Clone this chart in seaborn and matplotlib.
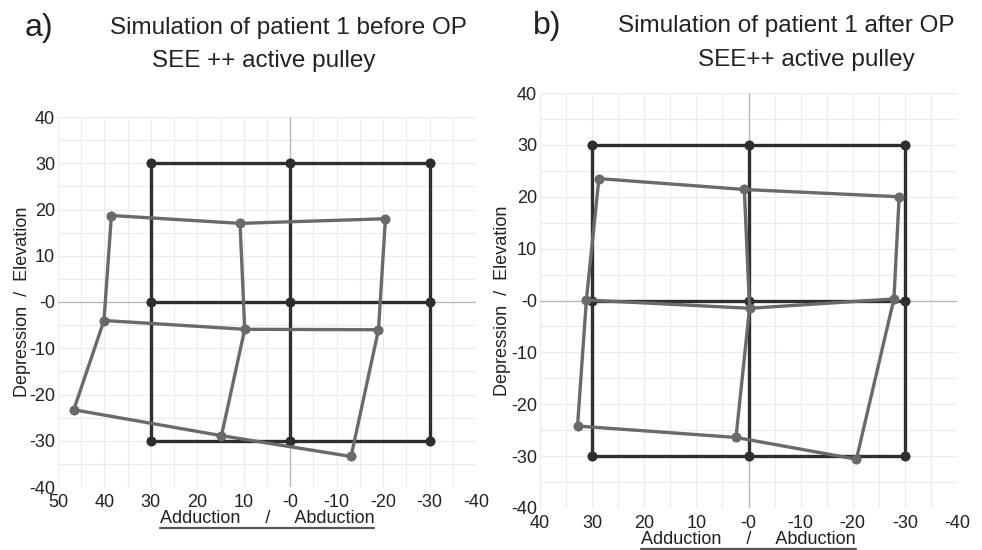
import matplotlib
matplotlib.use("Agg")
import matplotlib.pyplot as plt
from matplotlib.lines import Line2D
import seaborn as sns
import pandas as pd

# ---------------- data ----------------
target_x = [30, 0, -30]
target_y = [30, 0, -30]

# panel a) simulated positions (rows: top, middle, bottom; cols: left, mid, right)
before_x = [[38.5, 10.8, -20.5],
            [40.1, 9.8, -19.0],
            [46.6, 14.8, -13.1]]
before_y = [[18.7, 17.0, 18.0],
            [-4.0, -5.9, -6.0],
            [-23.3, -28.9, -33.4]]

# panel b)
after_x = [[28.7, 0.8, -28.9],
           [31.1, -0.2, -27.9],
           [32.8, 2.4, -20.7]]
after_y = [[23.5, 21.4, 20.0],
           [0.1, -1.5, 0.3],
           [-24.2, -26.4, -30.6]]

left_xticks = [50, 40, 30, 20, 10, 0, -10, -20, -30, -40]
left_xticklabels = ["50", "40", "30", "20", "10", "-0", "-10", "-20", "-30", "-40"]
right_xticks = [40, 30, 20, 10, 0, -10, -20, -30, -40]
right_xticklabels = ["40", "30", "20", "10", "-0", "-10", "-20", "-30", "-40"]
yticks = [40, 30, 20, 10, 0, -10, -20, -30, -40]
yticklabels = ["40", "30", "20", "10", "-0", "-10", "-20", "-30", "-40"]

title_a = ["Simulation of patient 1 before OP", "SEE ++ active pulley"]
title_b = ["Simulation of patient 1 after OP", "SEE++ active pulley"]
ylabel_txt = "Depression  /  Elevation"
xlabel_txt = "Adduction     /     Abduction"


def grid_frame(xs, ys):
    rows = []
    seg = 0
    for i in range(3):
        for j in range(3):
            rows.append(dict(x=xs[i][j], y=ys[i][j], seg=seg))
        seg += 1
    for j in range(3):
        for i in range(3):
            rows.append(dict(x=xs[i][j], y=ys[i][j], seg=seg))
        seg += 1
    return pd.DataFrame(rows)


target_xs = [[tx for tx in target_x] for _ in target_y]
target_ys = [[ty for _ in target_x] for ty in target_y]
df_target = grid_frame(target_xs, target_ys)
df_before = grid_frame(before_x, before_y)
df_after = grid_frame(after_x, after_y)

# ---------------- style ----------------
sns.set_style("white")
plt.rcParams["font.family"] = ["Liberation Sans", "DejaVu Sans"]
plt.rcParams["text.color"] = "#222222"

fig = plt.figure(figsize=(9.82, 5.5), dpi=100)
W, H = 982, 550

ax1 = fig.add_axes([58 / W, 1 - 487 / H, (476 - 58) / W, (487 - 117) / H])
ax2 = fig.add_axes([540 / W, 1 - 508 / H, (957 - 540) / W, (508 - 93) / H])

BLACK = "#2e2e2e"
GRAY = "#6a6a6a"


def style_axes(ax, xlim, xticks, xticklabels, xlab_y, ylab_x):
    ax.set_xlim(*xlim)
    ax.set_ylim(-40, 40)
    ax.set_xticks(xticks)
    ax.set_xticklabels(xticklabels)
    ax.set_yticks(yticks)
    ax.set_yticklabels(yticklabels)
    ax.set_xticks(list(range(xlim[0], xlim[1] - 1, -5)), minor=True)
    ax.set_yticks(list(range(-40, 41, 5)), minor=True)
    ax.tick_params(which="both", length=0)
    ax.tick_params(axis="x", pad=5, labelsize=13, colors="#222222")
    ax.tick_params(axis="y", pad=2, labelsize=13, colors="#222222")
    ax.grid(which="both", color="#ebebeb", lw=0.8)
    ax.set_axisbelow(True)
    for s in ax.spines.values():
        s.set_visible(False)
    ax.axhline(0, color="#b5b5b5", lw=0.9, zorder=1)
    ax.axvline(0, color="#b5b5b5", lw=0.9, zorder=1)
    ax.set_xlabel(xlabel_txt, fontsize=13, color="#222222")
    ax.set_ylabel(ylabel_txt, fontsize=13, color="#222222")
    ax.xaxis.set_label_coords(0.5, xlab_y)
    ax.xaxis.label.set_va("center")
    ax.yaxis.set_label_coords(ylab_x, 0.5)
    ax.yaxis.label.set_va("center")


for ax, df_sim in ((ax1, df_before), (ax2, df_after)):
    sns.lineplot(data=df_target, x="x", y="y", units="seg", estimator=None,
                 sort=False, color=BLACK, lw=2.4, marker="o", markersize=7,
                 markeredgewidth=0, ax=ax, zorder=3)
    sns.lineplot(data=df_sim, x="x", y="y", units="seg", estimator=None,
                 sort=False, color=GRAY, lw=2.4, marker="o", markersize=7,
                 markeredgewidth=0, ax=ax, zorder=4)

style_axes(ax1, (50, -40), left_xticks, left_xticklabels, -0.084, -0.086)
style_axes(ax2, (40, -40), right_xticks, right_xticklabels, -0.077, -0.089)

# titles
fig.text(25 / W, 1 - 28 / H, "a)", fontsize=23, va="center", ha="left")
fig.text(110 / W, 1 - 28 / H, title_a[0], fontsize=17.5, va="center", ha="left")
fig.text(152 / W, 1 - 61 / H, title_a[1], fontsize=17.5, va="center", ha="left")
fig.text(533 / W, 1 - 26 / H, "b)", fontsize=23, va="center", ha="left")
fig.text(618 / W, 1 - 26 / H, title_b[0], fontsize=17.5, va="center", ha="left")
fig.text(698 / W, 1 - 60 / H, title_b[1], fontsize=17.5, va="center", ha="left")

# underline the x labels
fig.canvas.draw()
renderer = fig.canvas.get_renderer()
for ax in (ax1, ax2):
    bb = ax.xaxis.label.get_window_extent(renderer)
    y = bb.y0 - 1
    fig.add_artist(Line2D([bb.x0 / W, bb.x1 / W], [y / H, y / H],
                          color="#555555", lw=1.6, transform=fig.transFigure))

fig.savefig("out.png", dpi=100)
